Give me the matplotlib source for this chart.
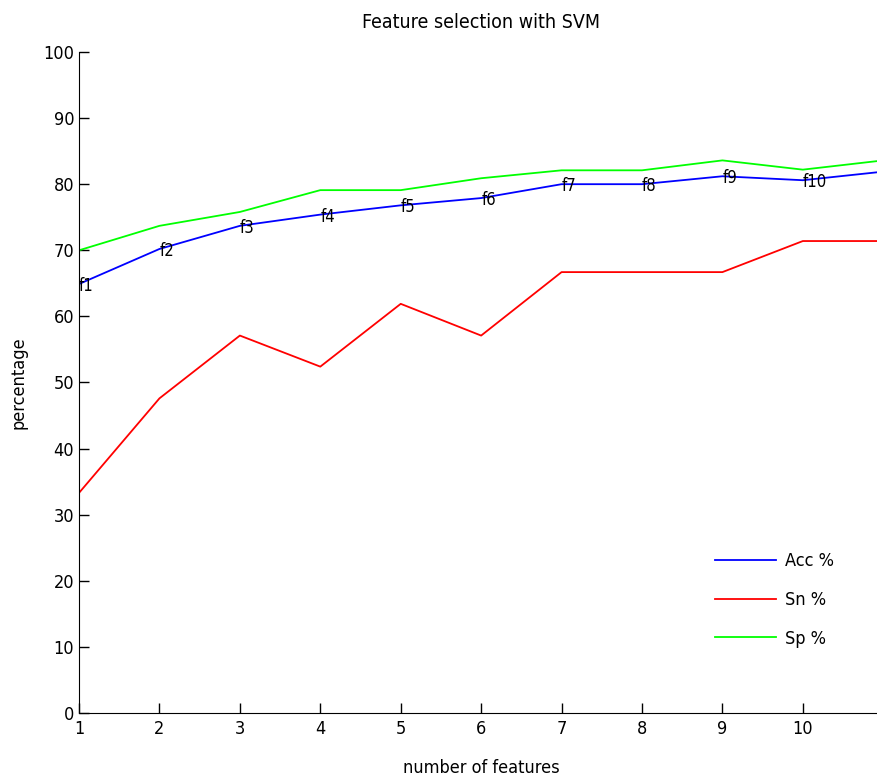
import matplotlib
matplotlib.use("Agg")
import matplotlib.pyplot as plt

plt.rcParams['font.family'] = ['DejaVu Sans Condensed', 'Liberation Sans Narrow', 'DejaVu Sans']
plt.rcParams['font.stretch'] = 'condensed'

# number of selected features and the scores for each subset
n_feat = [1, 2, 3, 4, 5, 6, 7, 8, 9, 10, 11]
acc = [64.9, 70.2, 73.7, 75.4, 76.8, 77.9, 80.0, 80.0, 81.2, 80.6, 81.9]
sn = [33.3, 47.6, 57.1, 52.4, 61.9, 57.1, 66.7, 66.7, 66.7, 71.4, 71.4]
sp = [70.0, 73.7, 75.8, 79.1, 79.1, 80.9, 82.1, 82.1, 83.6, 82.2, 83.6]
feat_names = ['f1', 'f2', 'f3', 'f4', 'f5', 'f6', 'f7', 'f8', 'f9', 'f10']

fig = plt.figure(figsize=(8.78, 7.83), dpi=100)
ax = fig.add_axes([0.09, 0.0894, 0.916, 0.8442])

ax.plot(n_feat, acc, '-', color='blue', lw=1.3, label='Acc %')
ax.plot(n_feat, sn, '-', color='red', lw=1.3, label='Sn %')
ax.plot(n_feat, sp, '-', color=(0, 1, 0), lw=1.3, label='Sp %')

for i, name in enumerate(feat_names):
    ax.text(n_feat[i], acc[i] - 0.3, name, ha='left', va='center', fontsize=12)

ax.set_xlim(1, 11)
ax.set_ylim(0, 100)
ax.set_xticks(range(1, 11))
ax.set_yticks(range(0, 101, 10))
ax.tick_params(direction='in', length=7, labelsize=13, width=1)
ax.tick_params(axis='x', pad=5)
ax.spines['top'].set_visible(False)
ax.spines['right'].set_visible(False)

ax.set_title('Feature selection with SVM', fontsize=14, pad=17)
ax.set_xlabel('number of features', fontsize=13, labelpad=15)
ax.set_ylabel('percentage', fontsize=13, labelpad=11)

ax.legend(loc='upper left', bbox_to_anchor=(0.77, 0.268), frameon=False,
          fontsize=13, handlelength=3.4, labelspacing=1.15, handletextpad=0.5)

fig.savefig('out.png', dpi=100)
